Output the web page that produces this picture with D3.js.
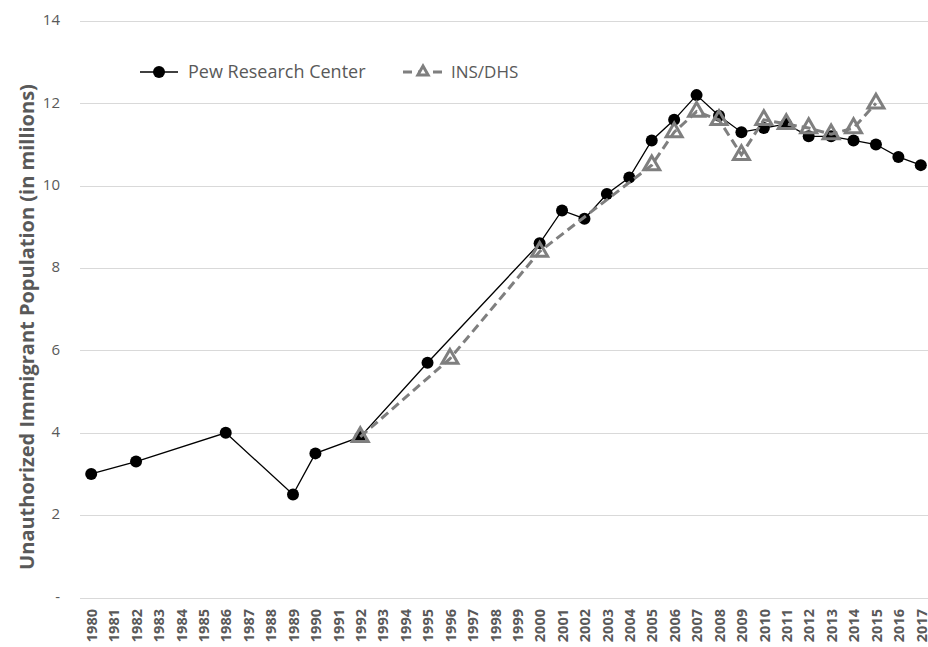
<!DOCTYPE html>
<html><head><meta charset="utf-8">
<script src="https://cdn.jsdelivr.net/npm/d3@7"></script>
<style>body{margin:0;background:#fff}svg{display:block}</style>
</head><body>
<svg id="c" width="928" height="647"></svg>
<script>
const years = d3.range(1980, 2018).map(String);
const pewYears = ["1980","1982","1986","1989","1990","1992","1995","2000","2001","2002","2003","2004","2005","2006","2007","2008","2009","2010","2011","2012","2013","2014","2015","2016","2017"];
const pewValues = [3.0,3.3,4.0,2.5,3.5,3.9,5.7,8.6,9.4,9.2,9.8,10.2,11.1,11.6,12.2,11.7,11.3,11.4,11.5,11.2,11.2,11.1,11.0,10.7,10.5];
const dhsYears = ["1992","1996","2000","2005","2006","2007","2008","2009","2010","2011","2012","2013","2014","2015"];
const dhsValues = [3.9,5.8,8.4,10.5,11.3,11.8,11.6,10.75,11.6,11.5,11.4,11.25,11.4,12.0];
const yTicks = [0,2,4,6,8,10,12,14];
const seriesNames = ["Pew Research Center","INS/DHS"];
const yTitle = "Unauthorized Immigrant Population (in millions)";

const svg = d3.select("#c");
const x = d3.scalePoint().domain(years).range([80, 932]).padding(0.5);
const y = d3.scaleLinear().domain([0,14]).range([597.5, 21]);
const txt = "#595959";
const font = "'Open Sans', sans-serif";

// grid
svg.append("g").selectAll("line").data(yTicks).join("line")
  .attr("x1", 80).attr("x2", 932).attr("y1", d=>Math.round(y(d))+0.5).attr("y2", d=>Math.round(y(d))+0.5)
  .attr("stroke", "#d9d9d9").attr("stroke-width", 1);

// y axis labels
const ya = svg.append("g").attr("transform","translate(60,0)")
  .call(d3.axisLeft(y).tickValues(yTicks).tickSize(0).tickPadding(0).tickFormat(d=> d===0 ? "-" : d));
ya.select(".domain").remove();
ya.selectAll("text").attr("fill", txt).attr("font-family", font).attr("font-size", 15).attr("dy","0.25em");

// x axis labels
const xa = svg.append("g").attr("transform","translate(0,597)")
  .call(d3.axisBottom(x).tickSize(0).tickPadding(0));
xa.select(".domain").remove();
xa.selectAll("text").attr("transform","rotate(-90)").attr("text-anchor","end")
  .attr("x", -12).attr("y", 0).attr("dy","0.36em")
  .attr("fill", txt).attr("font-family", font).attr("font-weight","bold").attr("font-size", 14.5);

// y title
svg.append("text").attr("transform","translate(27,327) rotate(-90)")
  .attr("text-anchor","middle").attr("dy","0.36em").attr("fill", txt).attr("font-family", font)
  .attr("font-weight","bold").attr("font-size", 20).text(yTitle);

const dhs = dhsYears.map((d,i)=>({k:d, v:dhsValues[i]}));
const pew = pewYears.map((d,i)=>({k:d, v:pewValues[i]}));
const line = d3.line().x(d=>x(d.k)).y(d=>y(d.v));
const gray = "#7f7f7f";
const tri = d3.symbol().type(d3.symbolTriangle).size(110);

// Pew series
svg.append("path").attr("d", line(pew)).attr("fill","none").attr("stroke","#000").attr("stroke-width",1.3);
svg.append("g").selectAll("circle").data(pew).join("circle")
  .attr("cx", d=>x(d.k)).attr("cy", d=>y(d.v)).attr("r", 6).attr("fill","#000");

// DHS series
svg.append("path").attr("d", line(dhs)).attr("fill","none").attr("stroke", gray)
  .attr("stroke-width", 3).attr("stroke-dasharray","9,5");
svg.append("g").selectAll("path").data(dhs).join("path")
  .attr("d", tri).attr("transform", d=>`translate(${x(d.k)},${y(d.v)})`)
  .attr("fill","none").attr("stroke", gray).attr("stroke-width", 3);

// legend
const lg = svg.append("g");
lg.append("line").attr("x1",140).attr("x2",178).attr("y1",72).attr("y2",72).attr("stroke","#000").attr("stroke-width",1.3);
lg.append("circle").attr("cx",159).attr("cy",72).attr("r",6).attr("fill","#000");
lg.append("text").attr("x",188).attr("y",72).attr("dy","0.36em").attr("fill",txt).attr("font-family",font).attr("font-size",18).text(seriesNames[0]);
lg.append("line").attr("x1",403).attr("x2",444).attr("y1",72).attr("y2",72).attr("stroke",gray).attr("stroke-width",3).attr("stroke-dasharray","9,6");
lg.append("path").attr("d",d3.symbol().type(d3.symbolTriangle).size(45)).attr("transform","translate(423,72)").attr("fill","#fff").attr("stroke",gray).attr("stroke-width",3);
lg.append("text").attr("x",451).attr("y",72).attr("dy","0.36em").attr("fill",txt).attr("font-family",font).attr("font-size",17).text(seriesNames[1]);
</script>
</body></html>
